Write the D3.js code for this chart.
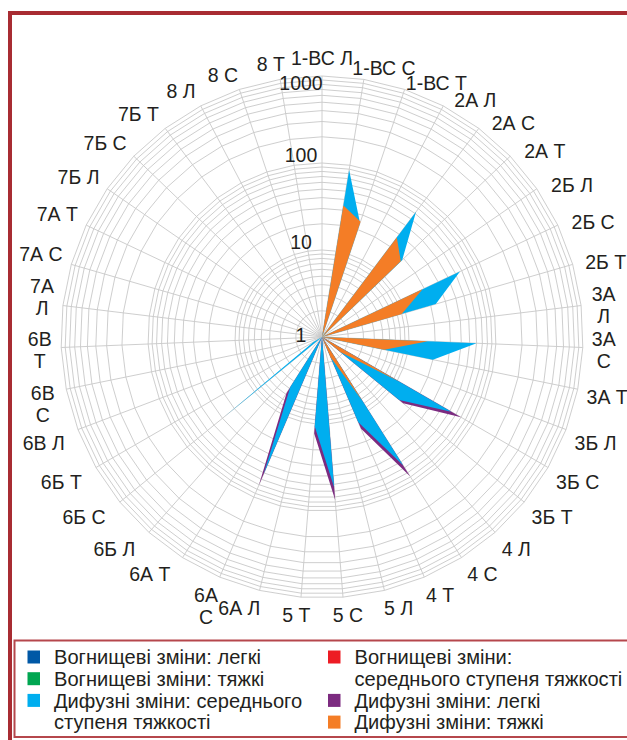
<!DOCTYPE html>
<html>
<head>
<meta charset="utf-8">
<script src="https://cdn.jsdelivr.net/npm/d3@7"></script>
<style>
  html, body { margin: 0; padding: 0; background: #fff; }
  svg { display: block; }
  text { font-family: "Liberation Sans", Arial, Helvetica, sans-serif; fill: #231f20; }
</style>
</head>
<body>
<svg id="chart" width="627" height="740"></svg>
<script>
// Segments with severity grade (Л – легкі, С – середні, Т – тяжкі)
const categories = [
  "1-ВС Л","1-ВС С","1-ВС Т","2А Л","2А С","2А Т","2Б Л","2Б С","2Б Т",
  "3А Л","3А С","3А Т","3Б Л","3Б С","3Б Т","4 Л","4 С","4 Т",
  "5 Л","5 С","5 Т","6А Л","6А С","6А Т","6Б Л","6Б С","6Б Т",
  "6В Л","6В С","6В Т","7А Л","7А С","7А Т","7Б Л","7Б С","7Б Т",
  "8 Л","8 С","8 Т"
];

// Series values, one per category (log scale, 1 = centre)
const focalLight   = [0,0,0, 0,0,0, 0,0,0, 0,0,0, 0,0,0, 0,0,0, 0,0,0, 0,0,0, 0,0,0, 0,0,0, 0,0,0, 0,0,0, 0,0,0];
const focalMedium  = [0,0,0, 0,0,0, 0,0,0, 0,0,0, 0,0,0, 0,0,0, 0,0,0, 0,0,0, 0,0,0, 0,0,0, 0,0,0, 0,0,0, 0,0,0];
const focalSevere  = [0,0,0, 0,0,0, 0,0,0, 0,0,0, 0,0,0, 0,0,0, 0,0,0, 0,0,0, 0,0,0, 0,0,0, 0,0,0, 0,0,0, 0,0,0];
const diffuseLight = [0,0,0, 0,0,0, 0,0,0, 0,0,0, 0,70,16, 0,78,14, 0,76,13, 0,71,5.8, 0,0,0, 0,0,0, 0,0,0, 0,0,0, 0,0,0];
const diffuseMedium= [0,88,24, 0,63,19, 0,57,23, 0,60,20, 0,52,14, 0,56,11.6, 0,54,10.8, 0,51,4.8, 0,29,1.3, 0,0,0, 0,0,0, 0,0,0, 0,0,0];
const diffuseSevere= [0,34,25, 0,27,18, 0,19,9, 0,16.5,5.4, 0,10.5,1.9, 0,7.5,1.8, 0,0,0, 0,0,0, 0,0,0, 0,0,0, 0,0,0, 0,0,0, 0,0,0];

const seriesNames = [
  "Вогнищеві зміни: легкі",
  "Вогнищеві зміни: середнього ступеня тяжкості",
  "Вогнищеві зміни: тяжкі",
  "Дифузні зміни: легкі",
  "Дифузні зміни: середнього ступеня тяжкості",
  "Дифузні зміни: тяжкі"
];
const seriesValues = [focalLight, focalMedium, focalSevere, diffuseLight, diffuseMedium, diffuseSevere];
const seriesColors = ["#0058a6", "#ed1c24", "#00a651", "#7c2b80", "#00aeef", "#f47d26"];

const tickValues = [1, 10, 100, 1000];
// Labels broken onto two lines
const wrappedLabels = ["3А Л", "3А С", "6А С", "6В С", "6В Т", "7А Л"];

// ---------------------------------------------------------------
const svg = d3.select("#chart");
const cx = 322, cy = 337, R = 261;
const n = categories.length;
const step = 2 * Math.PI / n;

const rScale = d3.scaleLog().domain([1, 1000]).range([0, R]).clamp(true);
const rad = v => (v > 1 ? rScale(v) : 0);

// frame
const frameColor = "#a82c32";
svg.append("rect").attr("x", 8).attr("y", 11).attr("width", 640).attr("height", 4).attr("fill", frameColor);
svg.append("rect").attr("x", 8).attr("y", 11).attr("width", 4).attr("height", 740).attr("fill", frameColor);

const plot = svg.append("g").attr("transform", `translate(${cx},${cy})`);

// grid rings (log minor + major), drawn as polygons through the spokes
const ringValues = [];
for (let e = 0; e < 3; e++) for (let k = 1; k <= 9; k++) { const v = k * Math.pow(10, e); if (v > 1) ringValues.push(v); }
ringValues.push(1000);

const ringLine = d3.lineRadial()
  .angle((d, i) => i * step)
  .curve(d3.curveLinearClosed);

plot.append("g").selectAll("path")
  .data(ringValues)
  .join("path")
  .attr("d", v => ringLine.radius(() => rScale(v))(categories))
  .attr("fill", "none")
  .attr("stroke", "#c8c8c8")
  .attr("stroke-width", 0.9);

// spokes
plot.append("g").selectAll("line")
  .data(categories)
  .join("line")
  .attr("x1", 0).attr("y1", 0)
  .attr("x2", (d, i) => R * Math.sin(i * step))
  .attr("y2", (d, i) => -R * Math.cos(i * step))
  .attr("stroke", "#c8c8c8")
  .attr("stroke-width", 0.9);

// filled series areas, later series on top
const areaLine = d3.lineRadial()
  .angle((d, i) => i * step)
  .radius(d => rad(d))
  .curve(d3.curveLinearClosed);

plot.append("g").selectAll("path")
  .data(seriesValues.map((vals, k) => ({ vals, color: seriesColors[k] })))
  .join("path")
  .attr("d", d => areaLine(d.vals))
  .attr("fill", d => d.color)
  .attr("stroke", "none");

// value axis labels
const tickFs = 19.5, tickCap = tickFs * 0.716;
plot.append("g").selectAll("text")
  .data(tickValues)
  .join("text")
  .attr("x", -21)
  .attr("y", (v, i) => {
    const y = -rScale(v);
    if (i === 0) return y + tickCap / 2 - 2;
    if (i === tickValues.length - 1) return y + tickCap + 0.5;
    return y - 1;
  })
  .attr("text-anchor", "middle")
  .attr("font-size", tickFs)
  .text(v => d3.format("d")(v));

// category labels around the rim
const catFs = 19.5, catCap = catFs * 0.716, catLine = 22;
const rho = R + 7, padX = 2, padY = 4;
const sin15 = Math.sin(15 * Math.PI / 180);
const labelG = plot.append("g");
categories.forEach((c, i) => {
  const th = i * step;
  const s = Math.sin(th), co = Math.cos(th);
  const lines = wrappedLabels.includes(c) ? c.split(" ") : [c];
  const t = labelG.append("text").attr("font-size", catFs).attr("text-anchor", "middle");
  lines.forEach((ln, j) => t.append("tspan").attr("x", 0).attr("y", j * catLine).text(ln));
  let w = 0;
  t.selectAll("tspan").each(function () { w = Math.max(w, this.getComputedTextLength()); });
  const h = catCap + (lines.length - 1) * catLine;
  const tt = Math.min(1, Math.abs(s) / sin15);
  const sx = Math.sign(s) * tt;
  let sy;
  if (co <= 0) sy = Math.min(1, -co * 3);
  else if (s >= 0) sy = -(1 - tt);
  else sy = -Math.max(1 - tt, Math.min(0.75, co * 3));
  const extraX = Math.abs(s) > 0.4 ? 7 * Math.max(0, Math.sin(2 * th)) : -3;
  const px = rho * s, py = -rho * co;
  const mx = px + (w / 2 + padX + extraX) * sx;
  const my = py + (h / 2 + padY) * sy;
  t.attr("transform", `translate(${mx},${my - h / 2 + catCap})`);
});

// legend
svg.append("rect")
  .attr("x", 14.5).attr("y", 640.5).attr("width", 700).attr("height", 96.5)
  .attr("fill", "none").attr("stroke", "#b5474c").attr("stroke-width", 2);

const legFs = 20.1, legLine = 21.7, legMid = 657;
const legendItems = [
  { k: 0, col: 0, row: 0, lines: ["Вогнищеві зміни: легкі"] },
  { k: 2, col: 0, row: 1, lines: ["Вогнищеві зміни: тяжкі"] },
  { k: 4, col: 0, row: 2, lines: ["Дифузні зміни: середнього", "ступеня тяжкості"] },
  { k: 1, col: 1, row: 0, lines: ["Вогнищеві зміни:", "середнього ступеня тяжкості"] },
  { k: 3, col: 1, row: 2, lines: ["Дифузні зміни: легкі"] },
  { k: 5, col: 1, row: 3, lines: ["Дифузні зміни: тяжкі"] }
];
const colX = [27.5, 328];
const leg = svg.append("g");
legendItems.forEach(it => {
  const mid = legMid + it.row * legLine;
  leg.append("rect")
    .attr("x", colX[it.col]).attr("y", mid - 6.5)
    .attr("width", 12.5).attr("height", 13)
    .attr("fill", seriesColors[it.k]);
  const t = leg.append("text").attr("font-size", legFs);
  it.lines.forEach((ln, j) => t.append("tspan")
    .attr("x", colX[it.col] + 26.5).attr("y", mid + legFs * 0.716 / 2 + j * legLine).text(ln));
});
</script>
</body>
</html>
